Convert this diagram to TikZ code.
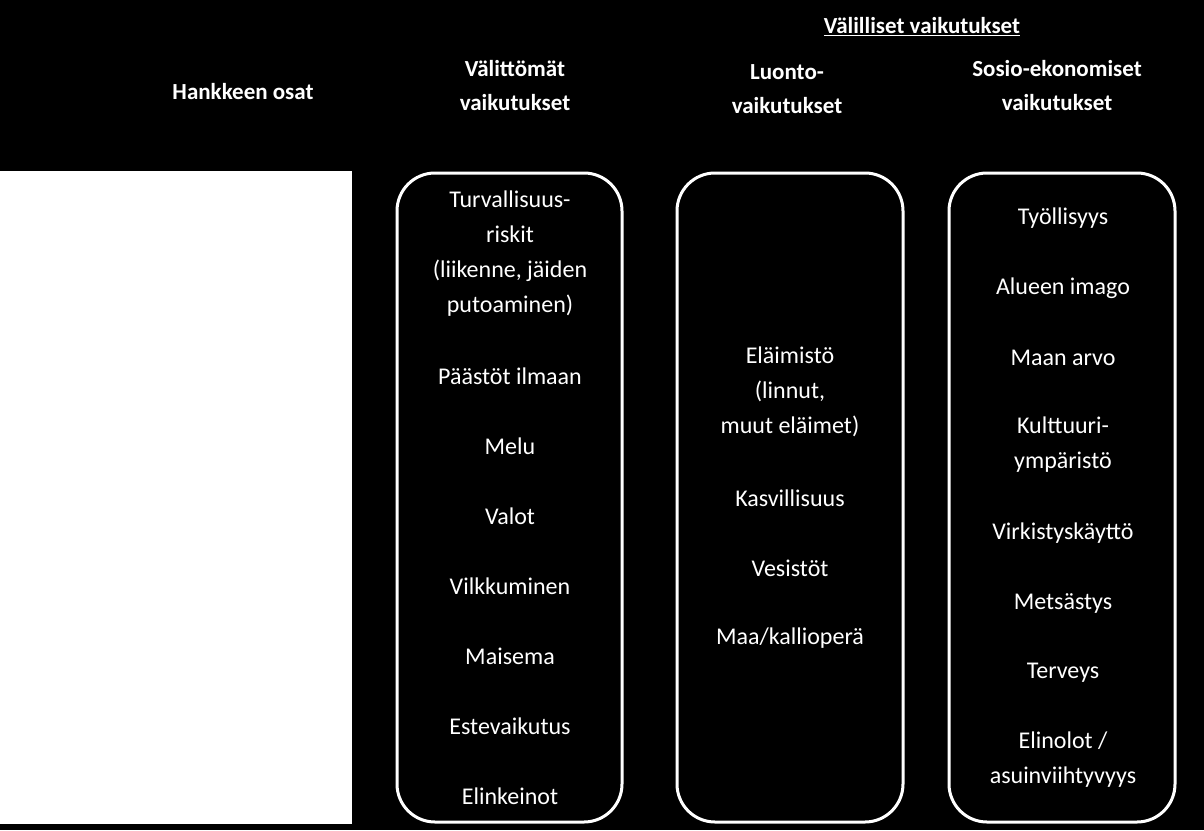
\documentclass[tikz,border=0pt]{standalone}
\usepackage{fontspec}
\setmainfont{Carlito}
\begin{document}
\begin{tikzpicture}[x=1pt,y=-1pt,
  txt/.style={text=white,font=\fontsize{24}{35}\selectfont,align=center,inner sep=0pt},
  hd/.style={text=white,font=\fontsize{23}{34}\selectfont\bfseries,align=center,inner sep=0pt},
  col/.style={draw=white,line width=3pt,rounded corners=38pt}]
\fill[black] (0,0) rectangle (1204,830);
\useasboundingbox (0,0) rectangle (1204,830);
\fill[white] (0,171) rectangle (352,824);
\draw[col] (397,173) rectangle (622,822);
\draw[col] (677,173) rectangle (903,822);
\draw[col] (949,173) rectangle (1175,822);
\node[hd] (h0) at (243,92) {Hankkeen osat};
\node[hd] (h1) at (515,86) {Välittömät\\vaikutukset};
\node[hd] (h2) at (787,89) {Luonto-\\vaikutukset};
\node[hd] (h3) at (1057,86) {Sosio-ekonomiset\\vaikutukset};
\node[hd] (h4) at (922,27) {\underline{Välilliset vaikutukset}};
% column 1
\node[txt] (a1) at (510,254) {Turvallisuus-\\riskit\\(liikenne, jäiden\\putoaminen)};
\node[txt] (a2) at (510,376) {Päästöt ilmaan};
\node[txt] (a3) at (510,446) {Melu};
\node[txt] (a4) at (510,516) {Valot};
\node[txt] (a5) at (510,586) {Vilkkuminen};
\node[txt] (a6) at (510,656) {Maisema};
\node[txt] (a7) at (510,726) {Estevaikutus};
\node[txt] (a8) at (510,796) {Elinkeinot};
% column 2
\node[txt] (b1) at (790,392) {Eläimistö\\(linnut,\\muut eläimet)};
\node[txt] (b2) at (790,498) {Kasvillisuus};
\node[txt] (b3) at (790,568) {Vesistöt};
\node[txt] (b4) at (790,638) {Maa/kallioperä};
% column 3
\node[txt] (c1) at (1063,218) {Työllisyys};
\node[txt] (c2) at (1063,288) {Alueen imago};
\node[txt] (c3) at (1063,358) {Maan arvo};
\node[txt] (c4) at (1063,445) {Kulttuuri-\\ympäristö};
\node[txt] (c5) at (1063,533) {Virkistyskäyttö};
\node[txt] (c6) at (1063,603) {Metsästys};
\node[txt] (c7) at (1063,673) {Terveys};
\node[txt] (c8) at (1063,760) {Elinolot /\\asuinviihtyvyys};
\end{tikzpicture}
\end{document}
